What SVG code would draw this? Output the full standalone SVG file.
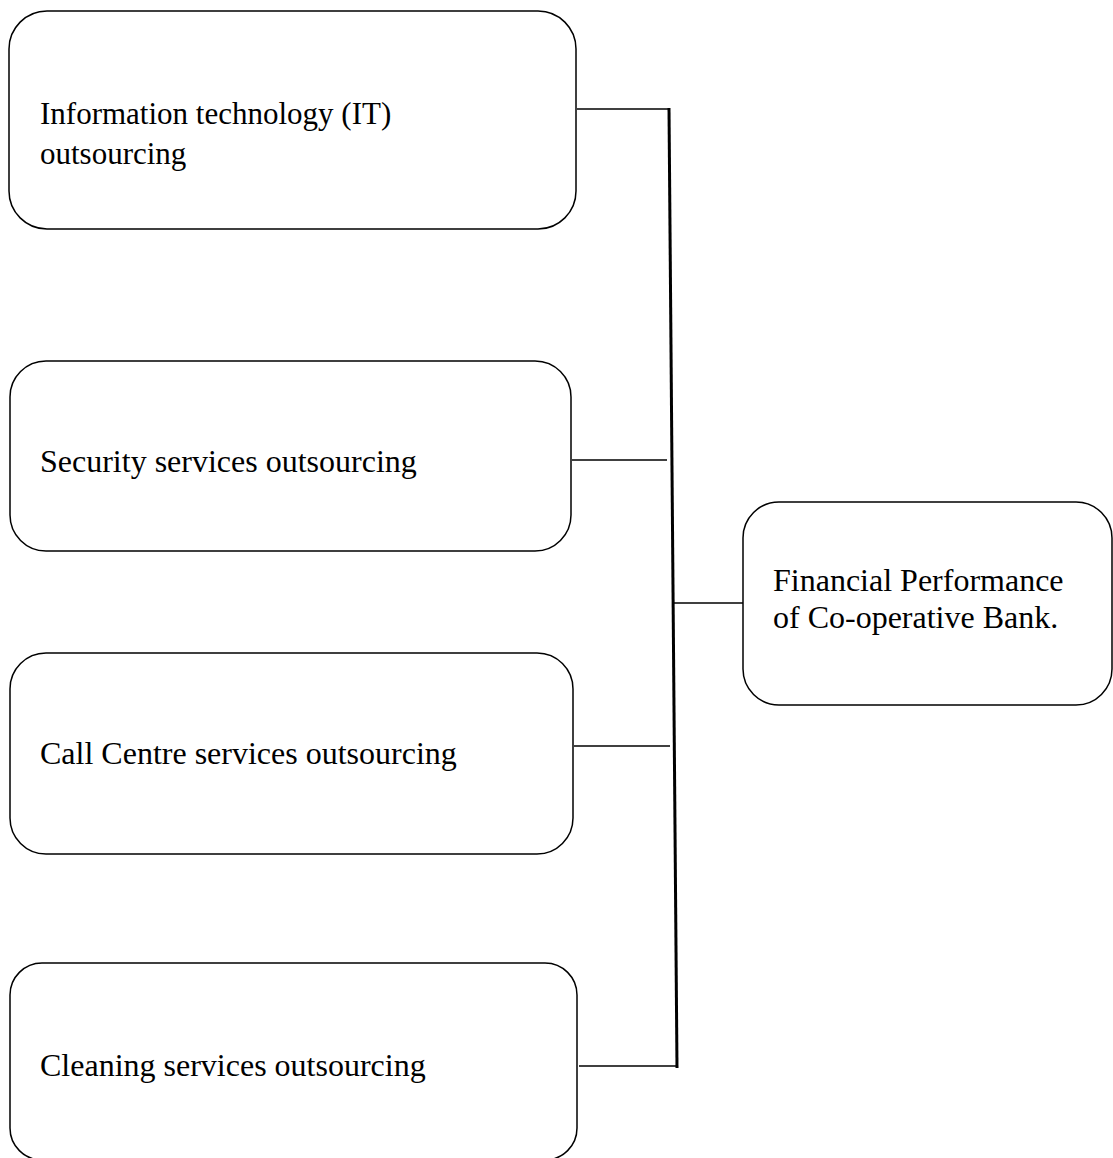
<svg xmlns="http://www.w3.org/2000/svg" width="1113" height="1158" viewBox="0 0 1113 1158">
<style>
.box{fill:#fff;stroke:#000;stroke-width:1.5}
.t{font-family:"Liberation Serif","Times New Roman",serif;font-size:32px;fill:#000}
.c{stroke:#000;stroke-width:1.5;fill:none}
.v{stroke:#000;stroke-width:3;fill:none}
</style>
<rect width="1113" height="1158" fill="#fff"/>
<g id="connectors">
<line class="v" x1="669" y1="108" x2="677" y2="1068"/>
<line class="c" x1="577" y1="109" x2="669" y2="109"/>
<line class="c" x1="572" y1="460" x2="667" y2="460"/>
<line class="c" x1="574" y1="746" x2="670" y2="746"/>
<line class="c" x1="579" y1="1066" x2="677" y2="1066"/>
<line class="c" x1="673" y1="603" x2="743" y2="603"/>
</g>
<g id="n1">
<rect class="box" x="9" y="11" width="567" height="218" rx="38" ry="38"/>
<text class="t" x="40" y="124" style="font-size:31px">Information technology (IT)</text>
<text class="t" x="40" y="164" style="font-size:31px">outsourcing</text>
</g>
<g id="n2">
<rect class="box" x="10" y="361" width="561" height="190" rx="36" ry="36"/>
<text class="t" x="40" y="472">Security services outsourcing</text>
</g>
<g id="n3">
<rect class="box" x="10" y="653" width="563" height="201" rx="36" ry="36"/>
<text class="t" x="40" y="764">Call Centre services outsourcing</text>
</g>
<g id="n4">
<rect class="box" x="10" y="963" width="567" height="197" rx="32" ry="32"/>
<text class="t" x="40" y="1076">Cleaning services outsourcing</text>
</g>
<g id="n5">
<rect class="box" x="743" y="502" width="369" height="203" rx="36" ry="36"/>
<text class="t" x="773" y="591">Financial Performance</text>
<text class="t" x="773" y="628">of Co-operative Bank.</text>
</g>
</svg>
